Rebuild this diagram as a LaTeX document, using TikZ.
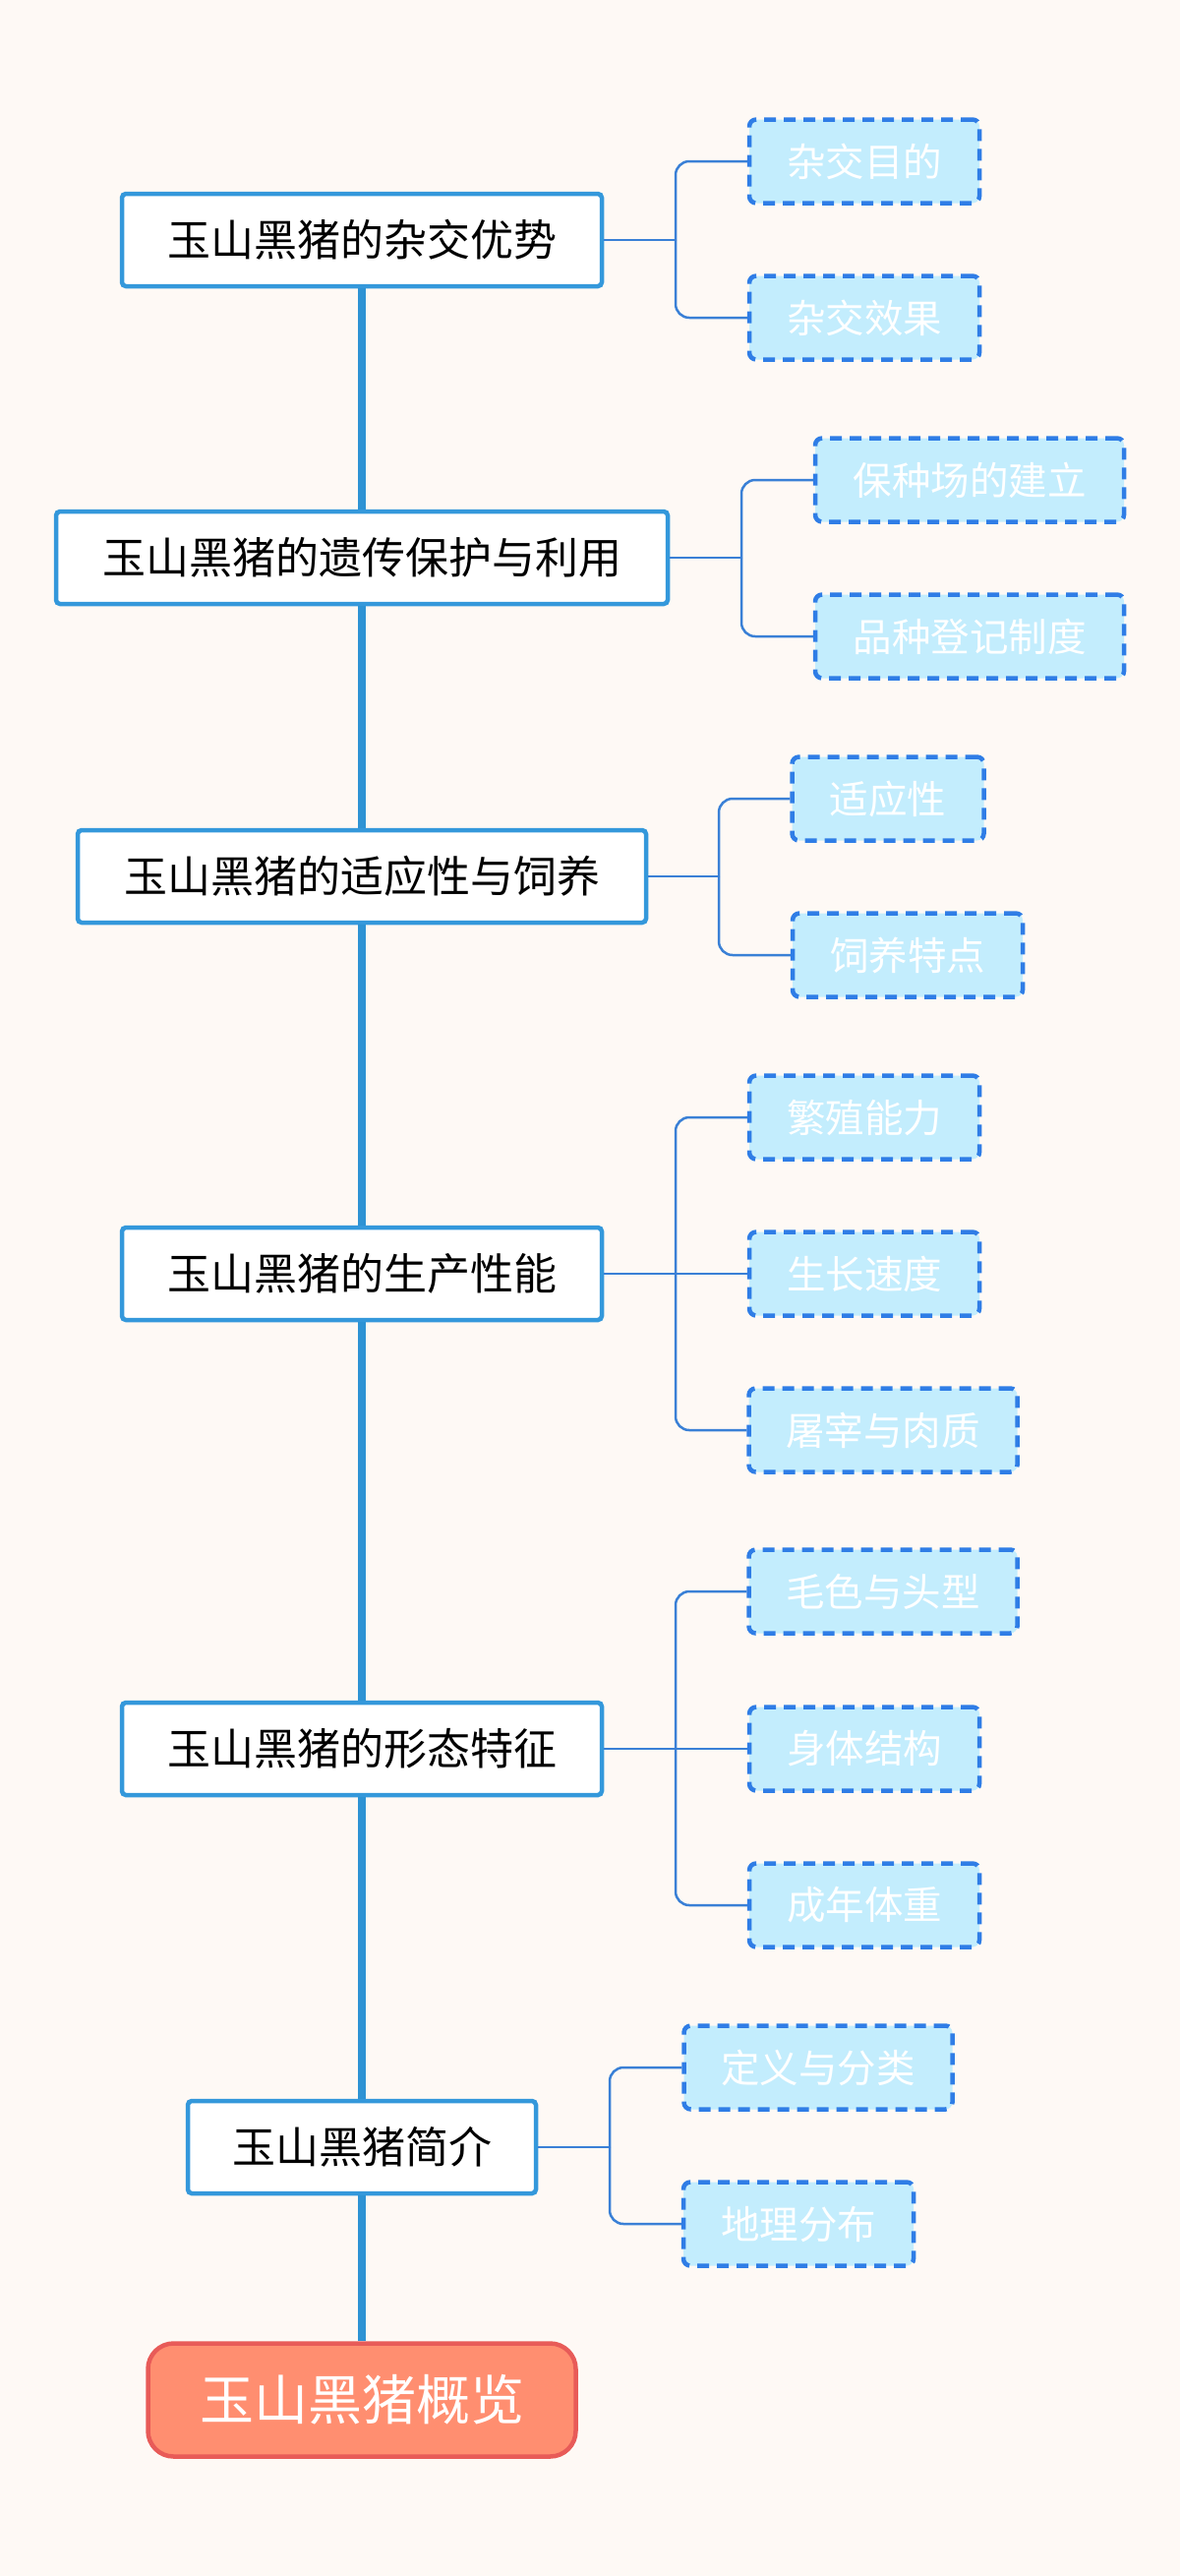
\documentclass[tikz,border=0pt]{standalone}
\usepackage{fontspec}
\setmainfont{Noto Sans CJK SC}
\definecolor{bgc}{HTML}{FEF9F5}
\definecolor{spinec}{HTML}{2E93D4}
\definecolor{mainb}{HTML}{3498DB}
\definecolor{linkc}{HTML}{3A80D6}
\definecolor{kidfill}{HTML}{C3EDFD}
\definecolor{kidb}{HTML}{2F7DE6}
\definecolor{rootfill}{HTML}{FF8E70}
\definecolor{rootb}{HTML}{E85B58}
\tikzset{
  mainbox/.style={draw=mainb, fill=white, line width=4.5pt, rounded corners=4pt,
    minimum height=94pt, inner sep=0pt, font=\fontsize{44}{50}\selectfont, text=black},
  kidbox/.style={draw=kidb, fill=kidfill, line width=4.5pt, dash pattern=on 12pt off 8pt,
    rounded corners=7pt, minimum height=85pt, inner sep=0pt,
    font=\fontsize{39.5}{45}\selectfont, text=white},
  rootbox/.style={draw=rootb, fill=rootfill, line width=4.5pt, rounded corners=26pt,
    minimum height=115pt, minimum width=435pt, inner sep=0pt,
    font=\fontsize{55}{60}\selectfont, text=white},
  spine/.style={draw=spinec, line width=8pt},
  link/.style={draw=linkc, line width=2.5pt},
  elbow/.style={draw=linkc, line width=2.5pt, rounded corners=14pt}
}
\begin{document}
\begin{tikzpicture}[x=1pt,y=-1pt]
\fill[bgc] (0,0) rectangle (1200,2619);
\useasboundingbox (0,0) rectangle (1200,2619);

% main boxes
\node[mainbox, minimum width=488pt] (m1) at (368,244) {玉山黑猪的杂交优势};
\node[mainbox, minimum width=622pt] (m2) at (368,567) {玉山黑猪的遗传保护与利用};
\node[mainbox, minimum width=578pt] (m3) at (368,891) {玉山黑猪的适应性与饲养};
\node[mainbox, minimum width=488pt] (m4) at (368,1295) {玉山黑猪的生产性能};
\node[mainbox, minimum width=488pt] (m5) at (368,1778) {玉山黑猪的形态特征};
\node[mainbox, minimum width=354pt] (m6) at (368,2183) {玉山黑猪简介};
\node[rootbox] (root) at (368,2440) {玉山黑猪概览};

% spine
\draw[spine] (m1.south) -- (m2.north);
\draw[spine] (m2.south) -- (m3.north);
\draw[spine] (m3.south) -- (m4.north);
\draw[spine] (m4.south) -- (m5.north);
\draw[spine] (m5.south) -- (m6.north);
\draw[spine] (m6.south) -- (root.north);

% children
\node[kidbox, minimum width=234pt] (k1a) at (879,164) {杂交目的};
\node[kidbox, minimum width=234pt] (k1b) at (879,323) {杂交效果};
\node[kidbox, minimum width=314pt] (k2a) at (986,488) {保种场的建立};
\node[kidbox, minimum width=314pt] (k2b) at (986,647) {品种登记制度};
\node[kidbox, minimum width=195pt] (k3a) at (903,812) {适应性};
\node[kidbox, minimum width=234pt] (k3b) at (923,971) {饲养特点};
\node[kidbox, minimum width=234pt] (k4a) at (879,1136) {繁殖能力};
\node[kidbox, minimum width=234pt] (k4b) at (879,1295) {生长速度};
\node[kidbox, minimum width=273pt] (k4c) at (898,1454) {屠宰与肉质};
\node[kidbox, minimum width=273pt] (k5a) at (898,1618) {毛色与头型};
\node[kidbox, minimum width=234pt] (k5b) at (879,1778) {身体结构};
\node[kidbox, minimum width=234pt] (k5c) at (879,1937) {成年体重};
\node[kidbox, minimum width=273pt] (k6a) at (832,2102) {定义与分类};
\node[kidbox, minimum width=234pt] (k6b) at (812,2261) {地理分布};

% branch points
\coordinate (b1) at (687,244);
\coordinate (b2) at (754,567);
\coordinate (b3) at (731,891);
\coordinate (b4) at (687,1295);
\coordinate (b5) at (687,1778);
\coordinate (b6) at (620,2183);

\draw[link] (m1.east) -- (b1);
\draw[elbow] (b1) |- (k1a.west);
\draw[elbow] (b1) |- (k1b.west);

\draw[link] (m2.east) -- (b2);
\draw[elbow] (b2) |- (k2a.west);
\draw[elbow] (b2) |- (k2b.west);

\draw[link] (m3.east) -- (b3);
\draw[elbow] (b3) |- (k3a.west);
\draw[elbow] (b3) |- (k3b.west);

\draw[link] (m4.east) -- (b4);
\draw[elbow] (b4) |- (k4a.west);
\draw[link] (b4) -- (k4b.west);
\draw[elbow] (b4) |- (k4c.west);

\draw[link] (m5.east) -- (b5);
\draw[elbow] (b5) |- (k5a.west);
\draw[link] (b5) -- (k5b.west);
\draw[elbow] (b5) |- (k5c.west);

\draw[link] (m6.east) -- (b6);
\draw[elbow] (b6) |- (k6a.west);
\draw[elbow] (b6) |- (k6b.west);
\end{tikzpicture}
\end{document}
